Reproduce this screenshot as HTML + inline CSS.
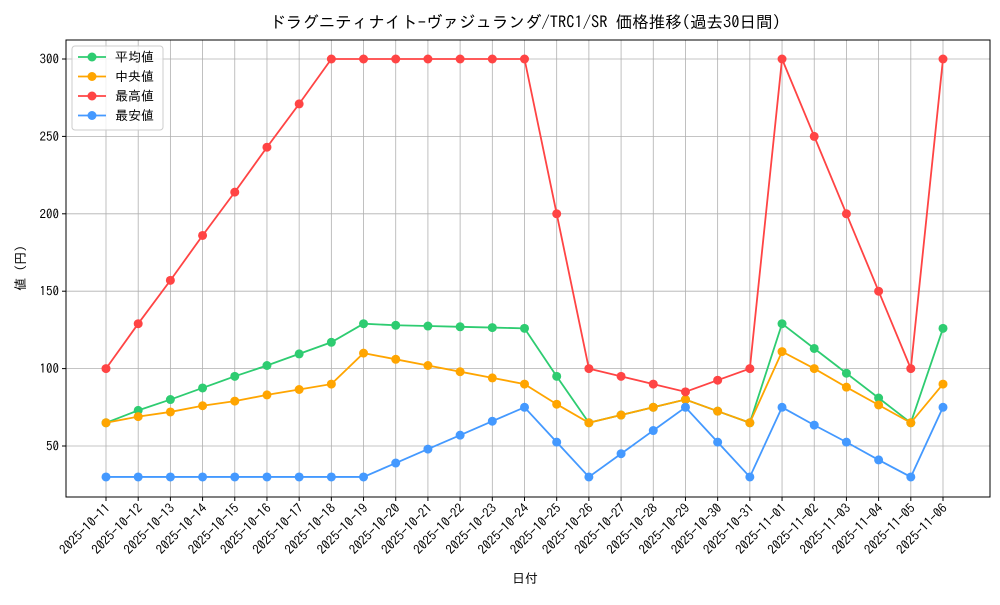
<!DOCTYPE html>
<html><head><meta charset="utf-8"><style>
body{margin:0;background:#fff;}
svg text{font-family:"IPAGothic","Liberation Mono","Noto Sans CJK JP",monospace;fill:#000;}
</style></head><body>
<svg id="c" width="1000" height="600" xmlns="http://www.w3.org/2000/svg"></svg>
<script>
const dates=["2025-10-11","2025-10-12","2025-10-13","2025-10-14","2025-10-15","2025-10-16","2025-10-17","2025-10-18","2025-10-19","2025-10-20","2025-10-21","2025-10-22","2025-10-23","2025-10-24","2025-10-25","2025-10-26","2025-10-27","2025-10-28","2025-10-29","2025-10-30","2025-10-31","2025-11-01","2025-11-02","2025-11-03","2025-11-04","2025-11-05","2025-11-06"];
const avgVals=[65,73,80,87.5,95,102,109.5,117,129,128,127.5,127,126.5,126,95,65,70,75,80,72.5,65,129,113,97,81,65,126];
const medVals=[65,69,72,76,79,83,86.5,90,110,106,102,98,94,90,77,65,70,75,80,72.5,65,111,100,88,76.5,65,90];
const maxVals=[100,129,157,186,214,243,271,300,300,300,300,300,300,300,200,100,95,90,85,92.5,100,300,250,200,150,100,300];
const minVals=[30,30,30,30,30,30,30,30,30,39,48,57,66,75,52.5,30,45,60,75,52.5,30,75,63.5,52.5,41,30,75];
const yTicks=[50,100,150,200,250,300];
const NS="http://www.w3.org/2000/svg";
const svg=document.getElementById('c');
const L=66,R=990,T=40,B=497;
const xs=i=>106+i*(943-106)/(dates.length-1);
const ys=v=>446-(v-50)*(446-59)/250;
function el(t,a,p){const e=document.createElementNS(NS,t);for(const k in a)e.setAttribute(k,a[k]);(p||svg).appendChild(e);return e;}
let e;
e=el('text',{x:525,y:28,'text-anchor':'middle','font-size':16.5});e.textContent="ドラグニティナイト-ヴァジュランダ/TRC1/SR 価格推移(過去30日間)";


dates.forEach((d,i)=>{
 e=el('line',{x1:xs(i),x2:xs(i),y1:T,y2:B,stroke:'#b0b0b0','stroke-width':0.8});
 
 
 el('line',{x1:xs(i),x2:xs(i),y1:B,y2:B+4,stroke:'#000'});
 e=el('text',{'font-size':13,'text-anchor':'end',transform:`translate(${xs(i)+5},${B+12}) rotate(-45)`});e.textContent=d;
 
 
});
yTicks.forEach(v=>{
 e=el('line',{x1:L,x2:R,y1:ys(v),y2:ys(v),stroke:'#b0b0b0','stroke-width':0.8});
 
 
 el('line',{x1:L-4,x2:L,y1:ys(v),y2:ys(v),stroke:'#000'});
 e=el('text',{x:L-7,y:ys(v)+4.5,'font-size':13,'text-anchor':'end'});e.textContent=v;
 
 
});
e=el('rect',{x:L,y:T,width:R-L,height:B-T,fill:'none',stroke:'#000','stroke-width':1});


e=el('text',{x:525,y:583,'font-size':13,'text-anchor':'middle'});e.textContent="日付";


e=el('text',{'font-size':13,'text-anchor':'middle',transform:'translate(25,268) rotate(-90)'});e.textContent="値 (円)";


const series=[["平均値",avgVals,"#2ecc71","avg"],["中央値",medVals,"#ffa500","median"],["最高値",maxVals,"#ff4444","max"],["最安値",minVals,"#4499ff","min"]];
series.forEach(([n,vals,c,k])=>{
 const g=el('g',{});
 
 
 el('polyline',{points:vals.map((v,i)=>xs(i)+','+ys(v)).join(' '),fill:'none',stroke:c,'stroke-width':1.8},g);
 vals.forEach((v,i)=>{const p=el('circle',{cx:xs(i),cy:ys(v),r:4.5,fill:c},g);
  
  });
});
const lg=el('g',{});


el('rect',{x:72,y:46,width:91,height:84,rx:3,fill:'#fff','fill-opacity':0.8,stroke:'#ccc'},lg);
series.forEach(([n,vals,c,k],j)=>{
 const y=57+j*19.5;
 const g=el('g',{},lg);
 
 
 el('line',{x1:78,x2:106,y1:y,y2:y,stroke:c,'stroke-width':1.8},g);
 el('circle',{cx:92,cy:y,r:4.5,fill:c},g);
 const t=el('text',{x:115,y:y+4.5,'font-size':13},g);t.textContent=n;
});
</script>
</body></html>
